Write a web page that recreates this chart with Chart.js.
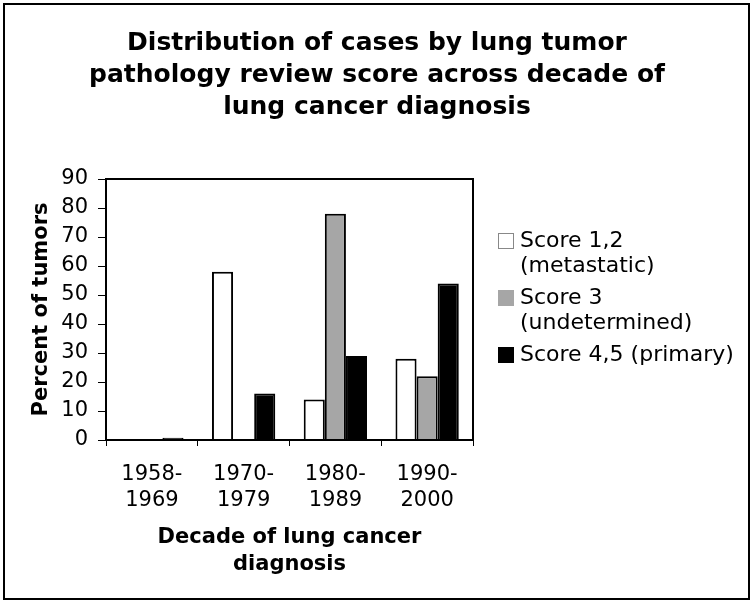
<!DOCTYPE html>
<html>
<head>
<meta charset="utf-8">
<script src="https://cdn.jsdelivr.net/npm/chart.js@4.4.0/dist/chart.umd.min.js"></script>
<style>
  html, body { margin: 0; padding: 0; background: #fff; }
  #wrap { width: 754px; height: 604px; }
</style>
</head>
<body>
<div id="wrap"><canvas id="lungChart" width="754" height="604"></canvas></div>
<script>
// Data
const decades = [['1958-', '1969'], ['1970-', '1979'], ['1980-', '1989'], ['1990-', '2000']];
const metastatic = [0, 58, 14, 28];      // Score 1,2
const undetermined = [0, 0, 78, 22];     // Score 3
const primary = [0.8, 16, 29, 54];       // Score 4,5
const seriesNames = [['Score 1,2', '(metastatic)'], ['Score 3', '(undetermined)'], ['Score 4,5 (primary)']];
const titleLines = ['Distribution of cases by lung tumor', 'pathology review score across decade of', 'lung cancer diagnosis'];
const yMax = 90;
const yStep = 10;

const FONT = '"DejaVu Sans", Verdana, sans-serif';
Chart.defaults.color = '#000';
Chart.defaults.font.family = FONT;

// outer frame + box around the plot area
const framePlugin = {
    id: 'frame',
    afterDatasetsDraw(chart) {
        const { ctx, chartArea } = chart;
        ctx.save();
        ctx.strokeStyle = '#000';
        ctx.lineWidth = 2;
        ctx.strokeRect(chartArea.left, chartArea.top, chartArea.right - chartArea.left, chartArea.bottom - chartArea.top);
        ctx.restore();
    },
    afterDraw(chart) {
        const ctx = chart.ctx;
        ctx.save();
        ctx.strokeStyle = '#000';
        ctx.lineWidth = 2;
        ctx.strokeRect(4, 4, 745, 595);
        ctx.restore();
    }
};

// legend with wrapped labels on the right
const sideLegend = {
    id: 'sideLegend',
    afterDraw(chart) {
        const { ctx, chartArea } = chart;
        const boxX = chartArea.right + 25;
        const textX = chartArea.right + 47;
        const lineH = 25;
        let y = chartArea.top + 62;
        ctx.save();
        ctx.font = '22px ' + FONT;
        ctx.textBaseline = 'middle';
        chart.data.datasets.forEach(ds => {
            ctx.fillStyle = ds.backgroundColor;
            ctx.fillRect(boxX, y - 8, 16, 16);
            ctx.strokeStyle = ds.legendBorder;
            ctx.lineWidth = 1;
            ctx.strokeRect(boxX + 0.5, y - 7.5, 15, 15);
            ctx.fillStyle = '#000';
            ds.label.forEach((line, i) => ctx.fillText(line, textX, y + i * lineH));
            y += ds.label.length * lineH + 7;
        });
        ctx.restore();
    }
};

const ctx = document.getElementById('lungChart').getContext('2d');
const lungChart = new Chart(ctx, {
    type: 'bar',
    data: {
        labels: decades,
        datasets: [{
            label: seriesNames[0],
            data: metastatic,
            backgroundColor: '#ffffff',
            borderColor: '#000',
            borderWidth: 2,
            legendBorder: '#888'
        }, {
            label: seriesNames[1],
            data: undetermined,
            backgroundColor: '#a6a6a6',
            borderColor: '#000',
            borderWidth: 2,
            legendBorder: '#a6a6a6'
        }, {
            label: seriesNames[2],
            data: primary,
            backgroundColor: '#000000',
            borderColor: '#000',
            borderWidth: 2,
            legendBorder: '#000'
        }]
    },
    options: {
        responsive: false,
        animation: false,
        layout: { padding: 0 },
        datasets: {
            bar: { barPercentage: 1, categoryPercentage: 0.69 }
        },
        scales: {
            x: {
                grid: { offset: true, drawOnChartArea: false, tickLength: 6, color: '#000', lineWidth: 1 },
                border: { color: '#000', width: 2 },
                ticks: { font: { size: 21, lineHeight: 1.22 }, padding: 16, maxRotation: 0 },
                title: {
                    display: true,
                    text: ['Decade of lung cancer', 'diagnosis'],
                    font: { size: 21, weight: 'bold', lineHeight: 1.29 },
                    padding: { top: 0, bottom: 26 }
                },
                afterFit(scale) { scale.height = 164; }
            },
            y: {
                min: 0,
                max: yMax,
                grid: { drawOnChartArea: false, tickLength: 8, color: '#000', lineWidth: 1 },
                border: { color: '#000', width: 2 },
                ticks: { stepSize: yStep, font: { size: 21 }, padding: 10 },
                title: {
                    display: true,
                    text: 'Percent of tumors',
                    font: { size: 21, weight: 'bold', lineHeight: 1.29 },
                    padding: { top: 28, bottom: 0 }
                },
                afterFit(scale) { scale.width = 106; }
            },
            // empty right-hand space that holds the legend
            legendSpace: {
                type: 'linear',
                position: 'right',
                display: true,
                grid: { display: false },
                border: { display: false },
                ticks: { display: false },
                afterFit(scale) { scale.width = 281; }
            }
        },
        plugins: {
            legend: { display: false },
            tooltip: { enabled: false },
            title: {
                display: true,
                text: titleLines,
                font: { size: 25, weight: 'bold', lineHeight: 1.268 },
                padding: { top: 28, bottom: 55.9 }
            }
        }
    },
    plugins: [framePlugin, sideLegend]
});
</script>
</body>
</html>
